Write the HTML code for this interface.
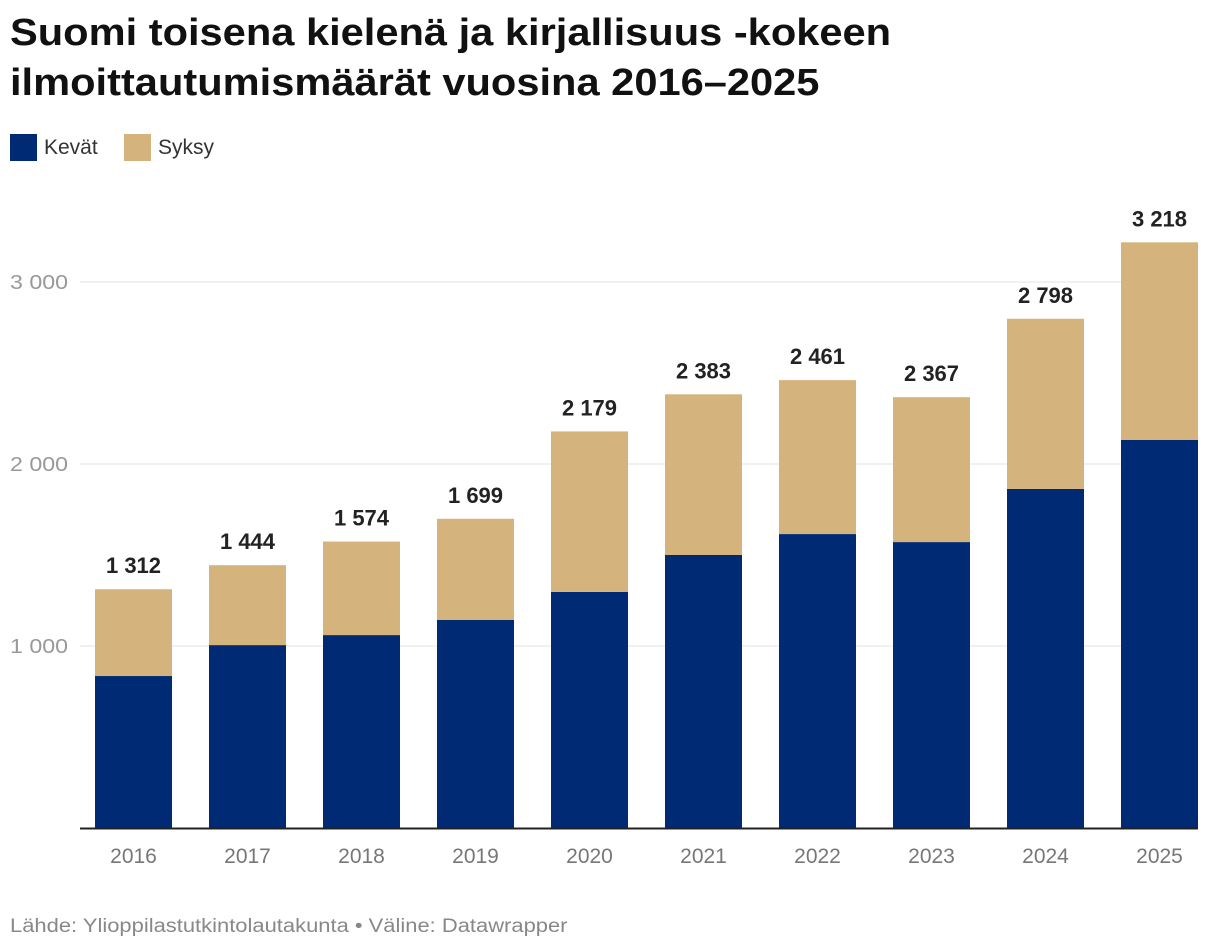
<!DOCTYPE html>
<html><head><meta charset="utf-8"><style>
body{margin:0;background:#fff;font-family:"Liberation Sans",sans-serif;}
#wrap{position:relative;width:1220px;height:952px;overflow:hidden}
h1{position:absolute;left:10px;top:8px;margin:0;font-size:38px;line-height:50px;font-weight:bold;color:#111;transform:scaleX(1.095);transform-origin:left top;white-space:nowrap}
.leg{position:absolute;top:134px;font-size:21px;color:#333;display:flex;align-items:center}
.sw{width:27px;height:27px;margin-right:7px;display:inline-block}
#src{position:absolute;left:10px;top:916px;font-size:19px;color:#888;transform:scaleX(1.155);transform-origin:left top;white-space:nowrap}
</style></head><body>
<div id="wrap">
<h1>Suomi toisena kielenä ja kirjallisuus -kokeen<br>ilmoittautumismäärät vuosina 2016–2025</h1>
<div class="leg" style="left:10px"><span class="sw" style="background:#002a74"></span>Kevät</div>
<div class="leg" style="left:124px"><span class="sw" style="background:#d5b37c"></span>Syksy</div>
<svg id="svg" width="1220" height="952" style="position:absolute;left:0;top:0"></svg>
<div id="src">Lähde: Ylioppilastutkintolautakunta • Väline: Datawrapper</div>
</div>
<script>
const years=["2016","2017","2018","2019","2020","2021","2022","2023","2024","2025"];
const kevat=[835,1005,1060,1143,1297,1500,1615,1571,1863,2132];
const totals=[1312,1444,1574,1699,2179,2383,2461,2367,2798,3218];
const ticks=[1000,2000,3000];
const svg=document.getElementById('svg');
const NS="http://www.w3.org/2000/svg";
const y=v=>828-v*0.182;
const x=i=>95+i*114;
const bw=77;
function mk(t,a){const e=document.createElementNS(NS,t);for(const k in a)e.setAttribute(k,a[k]);svg.appendChild(e);return e;}
const fmt=n=>{const s=String(n);return s.length>3?s.slice(0,-3)+" "+s.slice(-3):s;};
ticks.forEach(t=>{
 const l=mk('line',{x1:80,x2:1198,y1:y(t),y2:y(t),stroke:'#e3e3e3','stroke-width':1});
 
 
 const tx=mk('text',{x:10,y:y(t)+7,'font-size':20,fill:'#999',textLength:58,lengthAdjust:'spacingAndGlyphs'});
 tx.textContent=fmt(t);
 
 
});
years.forEach((yr,i)=>{
 const k=kevat[i];
 const r1=mk('rect',{x:x(i),y:y(k),width:bw,height:y(0)-y(k),fill:'#002a74'});
 
 
 const r2=mk('rect',{x:x(i),y:y(totals[i]),width:bw,height:y(k)-y(totals[i]),fill:'#d5b37c'});
 
 
 const lb=mk('text',{x:x(i)+bw/2,y:y(totals[i])-16,'font-size':22,'font-weight':'bold',fill:'#222','text-anchor':'middle'});
 lb.textContent=fmt(totals[i]);
 
 
 const xl=mk('text',{x:x(i)+bw/2,y:863,'font-size':21,fill:'#777','text-anchor':'middle'});
 xl.textContent=yr;
 
 
});
const ax=mk('line',{x1:80,x2:1198,y1:828.5,y2:828.5,stroke:'#222','stroke-width':2});


</script>
</body></html>
